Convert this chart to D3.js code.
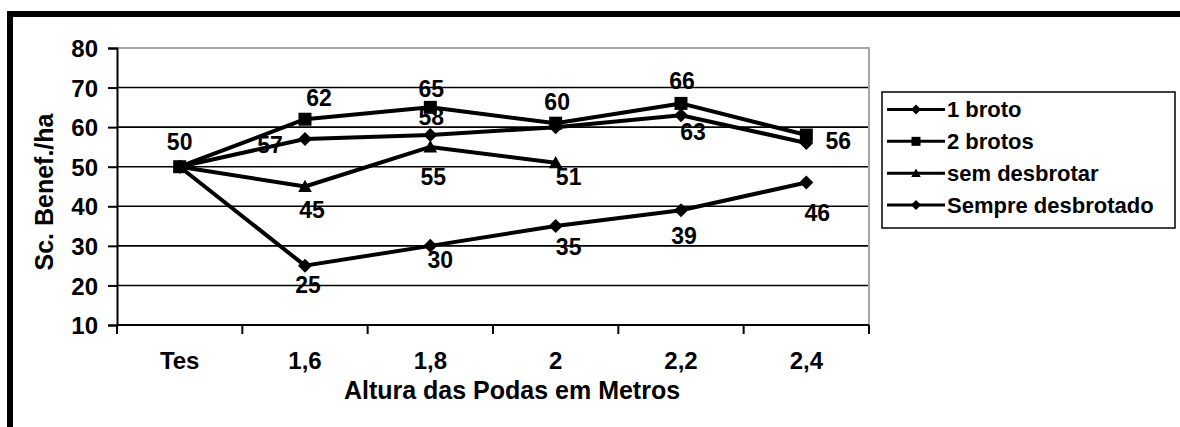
<!DOCTYPE html>
<html>
<head>
<meta charset="utf-8">
<script src="https://cdn.jsdelivr.net/npm/d3@7"></script>
<style>
  html, body { margin: 0; padding: 0; background: #fff; }
  svg text { font-family: "Liberation Sans", Arial, sans-serif; font-weight: bold; fill: #000; }
</style>
</head>
<body>
<svg id="chart" width="1180" height="427"></svg>
<script>
// ---------- data ----------
const categories = ["Tes", "1,6", "1,8", "2", "2,2", "2,4"];
const yTicks = [10, 20, 30, 40, 50, 60, 70, 80];
const seriesNames = ["1 broto", "2 brotos", "sem desbrotar", "Sempre desbrotado"];
const values1Broto = [50, 57, 58, 60, 63, 56];
const values2Brotos = [50, 62, 65, 61, 66, 58];
const valuesSemDesbrotar = [50, 45, 55, 51, null, null];
const valuesSempreDesbrotado = [50, 25, 30, 35, 39, 46];
// data labels as printed on the chart (null = not shown)
const labels1Broto = [null, "57", "58", null, "63", "56"];
const labels2Brotos = ["50", "62", "65", "60", "66", null];
const labelsSemDesbrotar = [null, "45", "55", "51", null, null];
const labelsSempreDesbrotado = [null, "25", "30", "35", "39", "46"];

// ---------- layout (label offsets relative to the point) ----------
const labelOffsets = [
  [null, [-35, 6], [1, -18.5], null, [12, 16.5], [32, -2]],
  [[0, -24.5], [14, -22], [1, -19], [1.5, -21.5], [1, -22.5], null],
  [null, [7, 23.5], [3, 30], [13, 14], null, null],
  [null, [3, 19.5], [10, 14], [13, 21], [3, 25], [11, 30]]
];
const markerTypes = ["diamond", "square", "triangle", "diamond"];

const series = [
  { name: seriesNames[0], values: values1Broto, labels: labels1Broto },
  { name: seriesNames[1], values: values2Brotos, labels: labels2Brotos },
  { name: seriesNames[2], values: valuesSemDesbrotar, labels: labelsSemDesbrotar },
  { name: seriesNames[3], values: valuesSempreDesbrotado, labels: labelsSempreDesbrotado }
];

const svg = d3.select("#chart");
const plot = { left: 117, right: 869, top: 48, bottom: 325 };

const x = d3.scaleBand().domain(categories).range([plot.left, plot.right]).padding(0);
const y = d3.scaleLinear().domain([10, 80]).range([plot.bottom, plot.top]);
const cx = c => x(c) + x.bandwidth() / 2;

function markerPath(type, s) {
  if (type === "diamond") return `M0,${-s}L${s},0L0,${s}L${-s},0Z`;
  if (type === "square") return `M${-s},${-s}H${s}V${s}H${-s}Z`;
  return `M0,${-s * 1.05}L${s * 1.05},${s * 0.85}L${-s * 1.05},${s * 0.85}Z`;
}

// outer frame (thick, only top and left visible)
svg.append("line").attr("x1", 7).attr("x2", 1180).attr("y1", 14).attr("y2", 14)
  .attr("stroke", "#000").attr("stroke-width", 6);
svg.append("line").attr("x1", 10).attr("x2", 10).attr("y1", 11).attr("y2", 427)
  .attr("stroke", "#000").attr("stroke-width", 6);

// gridlines
svg.append("g").selectAll("line").data(yTicks.filter(t => t > 10 && t < 80)).join("line")
  .attr("x1", plot.left).attr("x2", plot.right)
  .attr("y1", d => y(d)).attr("y2", d => y(d))
  .attr("stroke", "#000").attr("stroke-width", 1.6);

// plot area border (gray top and right)
svg.append("path")
  .attr("d", `M${plot.left},${y(80)}H${plot.right}V${plot.bottom}`)
  .attr("fill", "none").attr("stroke", "#a6a6a6").attr("stroke-width", 2);

// y axis
const yAxis = d3.axisLeft(y).tickValues(yTicks).tickSize(9).tickPadding(10).tickFormat(d3.format("d"));
const gy = svg.append("g").attr("transform", `translate(${plot.left},0)`).call(yAxis);
gy.select(".domain").attr("stroke", "#000").attr("stroke-width", 2);
gy.selectAll(".tick line").attr("stroke", "#000").attr("stroke-width", 2);
gy.selectAll(".tick text").style("font-size", "24px").style("font-family", null).attr("dy", "0.36em");

// x axis: ticks at band boundaries
const boundaries = categories.map(c => x(c)).concat([plot.right]);
svg.append("line").attr("x1", plot.left).attr("x2", plot.right)
  .attr("y1", plot.bottom).attr("y2", plot.bottom).attr("stroke", "#000").attr("stroke-width", 2);
svg.append("g").selectAll("line").data(boundaries).join("line")
  .attr("x1", d => d).attr("x2", d => d).attr("y1", plot.bottom).attr("y2", plot.bottom + 9)
  .attr("stroke", "#000").attr("stroke-width", 2);
svg.append("g").selectAll("text").data(categories).join("text")
  .attr("x", d => cx(d)).attr("y", 360).attr("dy", "0.36em")
  .attr("text-anchor", "middle").style("font-size", "24px").text(d => d);

// axis titles
svg.append("text").attr("x", 512).attr("y", 399).attr("text-anchor", "middle")
  .style("font-size", "25px").text("Altura das Podas em Metros");
svg.append("text").attr("transform", "translate(53,192) rotate(-90)")
  .attr("text-anchor", "middle").style("font-size", "25px").text("Sc. Benef./ha");

// lines
const line = d3.line().defined(d => d.v != null).x(d => cx(d.c)).y(d => y(d.v));
series.forEach((s, i) => {
  const pts = categories.map((c, j) => ({ c, v: s.values[j] }));
  svg.append("path").datum(pts).attr("d", line)
    .attr("fill", "none").attr("stroke", "#000").attr("stroke-width", 4)
    .attr("stroke-linejoin", "round");
});
// markers
series.forEach((s, i) => {
  const pts = categories.map((c, j) => ({ c, v: s.values[j] })).filter(d => d.v != null);
  const size = markerTypes[i] === "diamond" ? 7 : 6.5;
  svg.append("g").selectAll("path").data(pts).join("path")
    .attr("transform", d => `translate(${cx(d.c)},${y(d.v)})`)
    .attr("d", markerPath(markerTypes[i], size)).attr("fill", "#000");
});
// data labels
series.forEach((s, i) => {
  const pts = categories.map((c, j) => ({ c, v: s.values[j], t: s.labels[j], o: labelOffsets[i][j] }))
    .filter(d => d.v != null && d.t != null);
  svg.append("g").selectAll("text").data(pts).join("text")
    .attr("x", d => cx(d.c) + d.o[0]).attr("y", d => y(d.v) + d.o[1]).attr("dy", "0.36em")
    .attr("text-anchor", "middle").style("font-size", "23px").text(d => d.t);
});

// legend
const lg = svg.append("g");
lg.append("rect").attr("x", 882).attr("y", 92).attr("width", 293).attr("height", 136)
  .attr("fill", "#fff").attr("stroke", "#000").attr("stroke-width", 1.5);
const legendY = d3.scalePoint().domain(seriesNames).range([109.5, 205]);
seriesNames.forEach((n, i) => {
  const yy = legendY(n);
  lg.append("line").attr("x1", 887).attr("x2", 945).attr("y1", yy).attr("y2", yy)
    .attr("stroke", "#000").attr("stroke-width", 3);
  lg.append("path").attr("transform", `translate(916,${yy})`)
    .attr("d", markerPath(markerTypes[i], markerTypes[i] === "diamond" ? 5 : 4.5)).attr("fill", "#000");
  lg.append("text").attr("x", 947).attr("y", yy).attr("dy", "0.36em")
    .style("font-size", "22px").text(n);
});
</script>
</body>
</html>
